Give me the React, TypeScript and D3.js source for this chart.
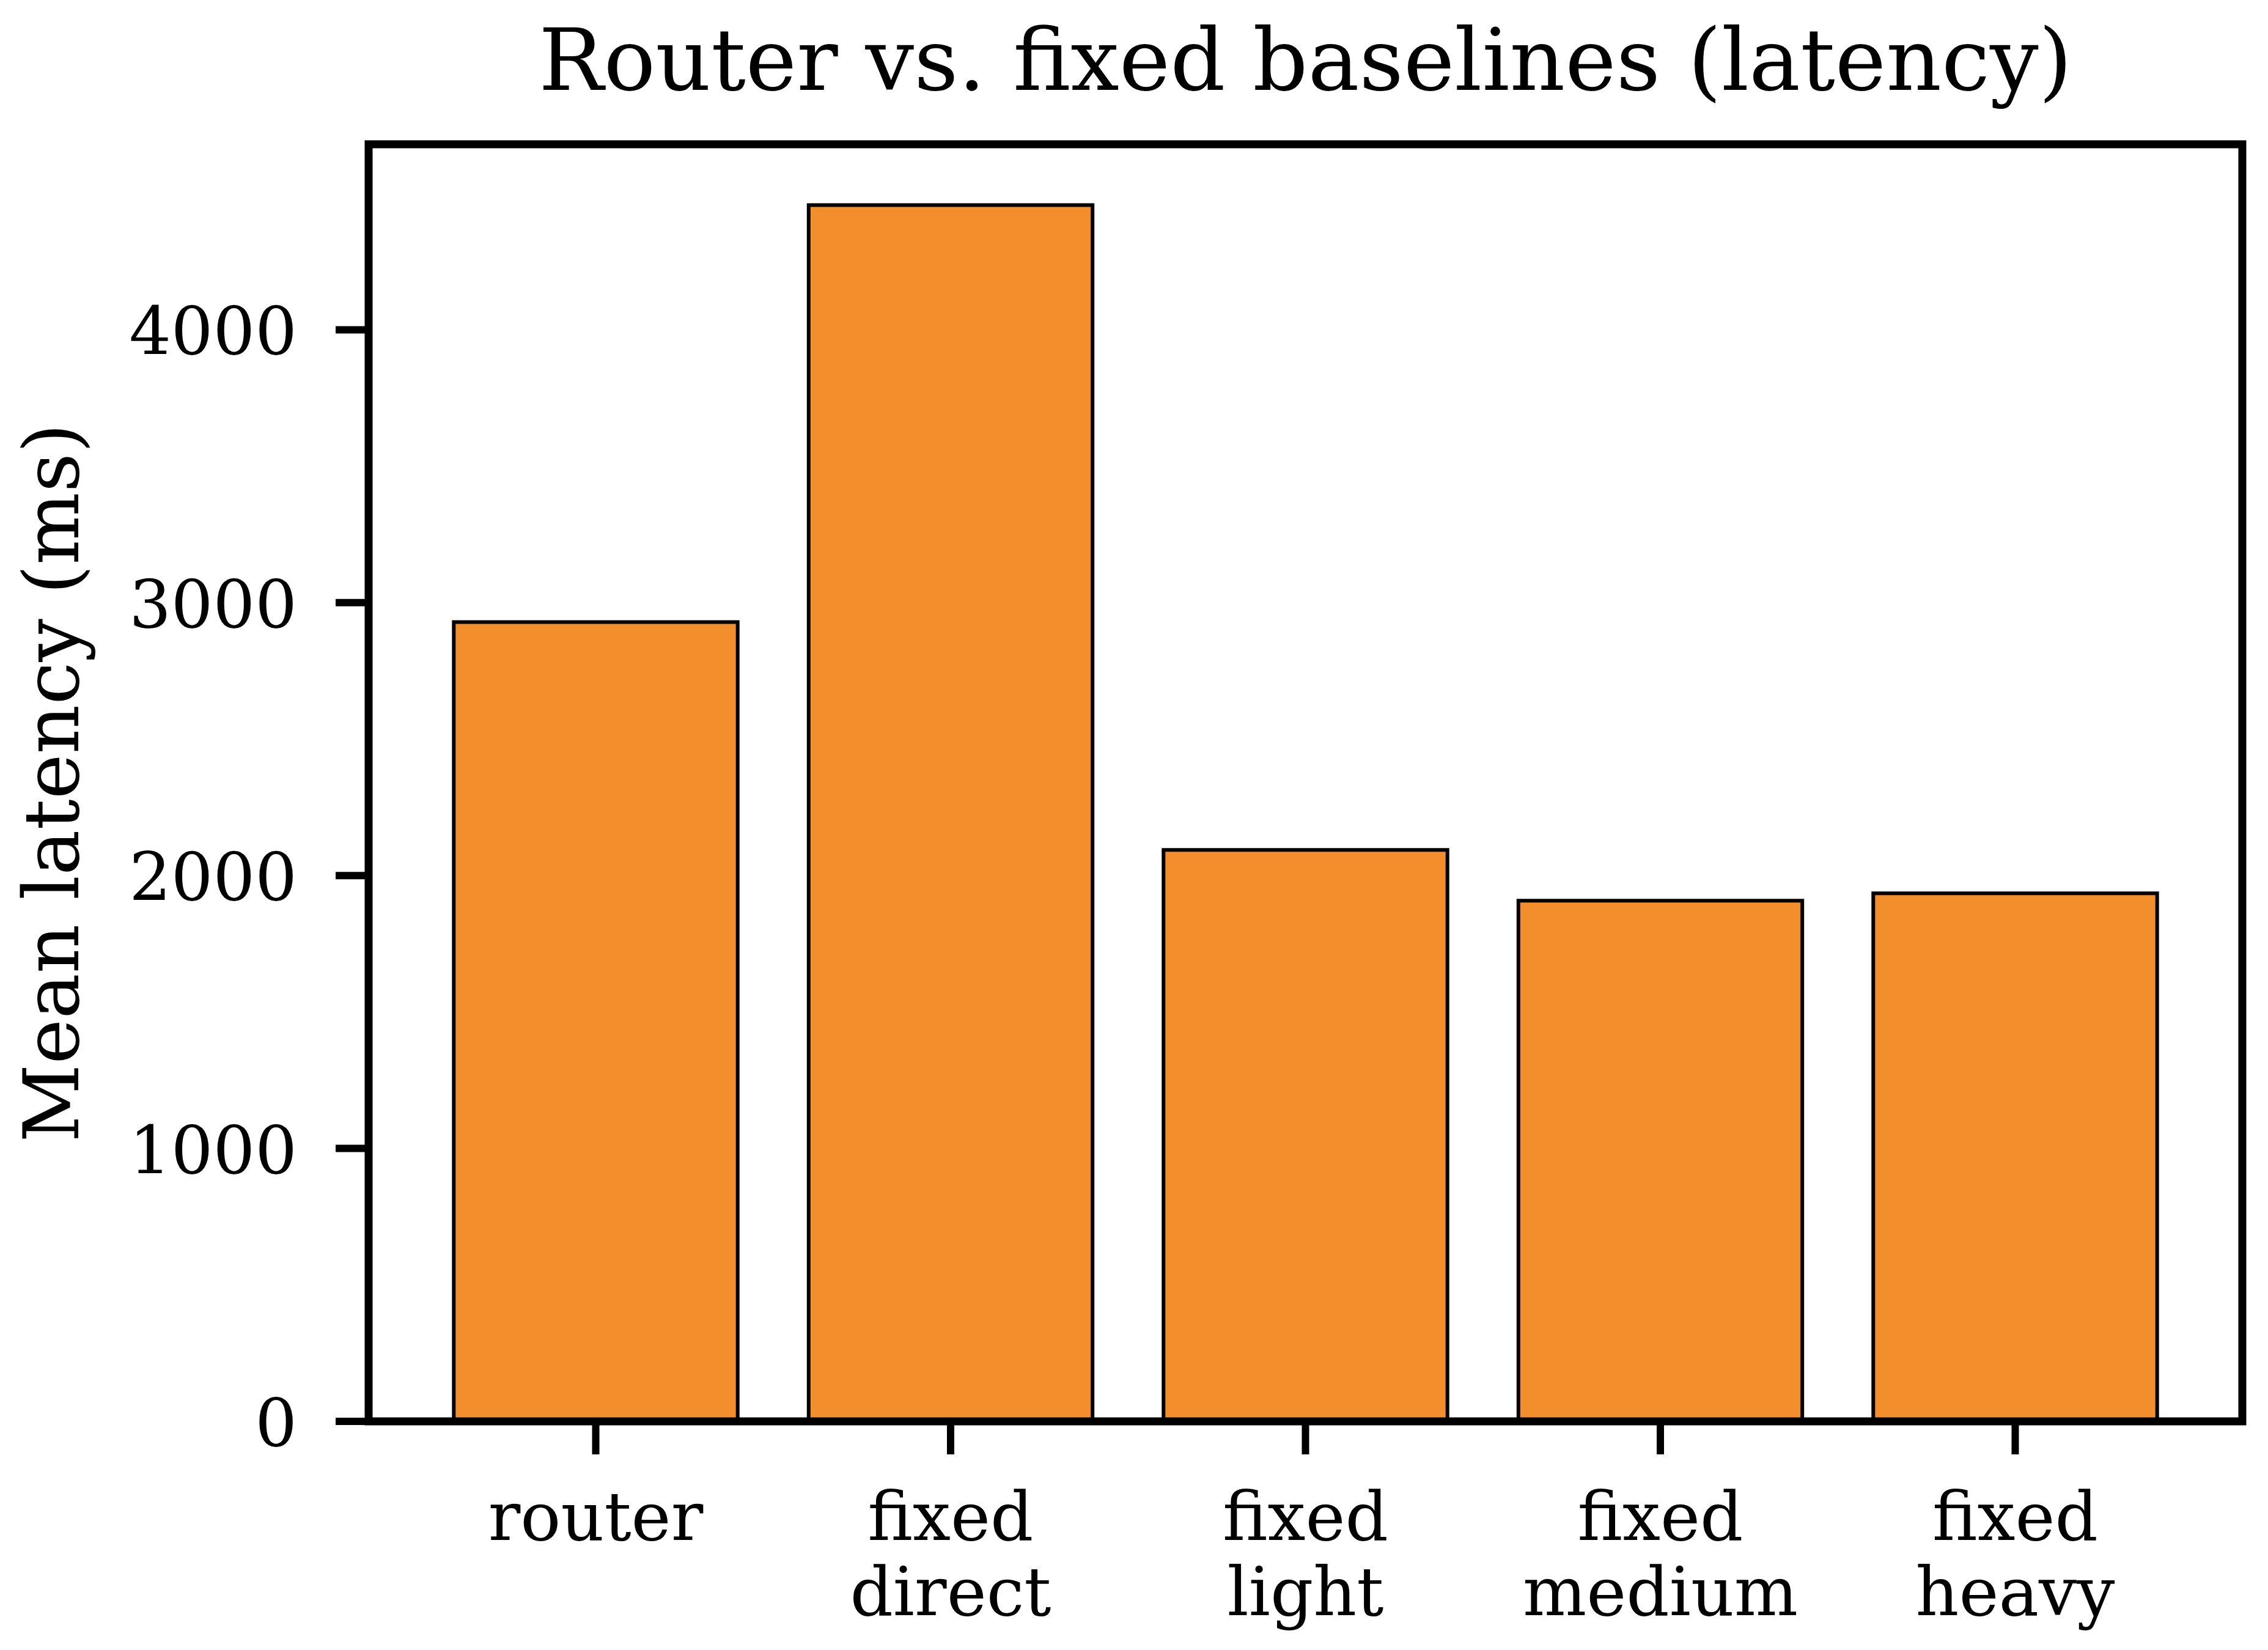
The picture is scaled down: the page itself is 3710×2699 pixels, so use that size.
import React from "react";
import * as d3 from "d3";

const categories: string[][] = [
  ["router"],
  ["fixed", "direct"],
  ["fixed", "light"],
  ["fixed", "medium"],
  ["fixed", "heavy"],
];
const categoryKeys = ["router", "fixed direct", "fixed light", "fixed medium", "fixed heavy"];
const latencyMs = [2929, 4457, 2094, 1908, 1935];
const yTicks = [0, 1000, 2000, 3000, 4000];

const W = 3710;
const H = 2699;
const left = 603;
const right = 3668;
const top = 236;
const bottom = 2325;
const FONT = "'DejaVu Serif', serif";

export default function App() {
  const x = d3
    .scaleBand<string>()
    .domain(categoryKeys)
    .range([left, right])
    .paddingInner(0.2)
    .paddingOuter(0.24);
  const ymax = (d3.max(latencyMs) as number) * 1.05;
  const y = d3.scaleLinear().domain([0, ymax]).range([bottom, top]);
  const tickLen = 54;

  return (
    <svg
      width={W}
      height={H}
      style={{ position: "absolute", left: 0, top: 0, background: "#fff" }}
    >
      <rect x={0} y={0} width={W} height={H} fill="#fff" />
      <text
        x={(left + right) / 2}
        y={147}
        textAnchor="middle"
        fontFamily={FONT}
        fontSize={141}
        fill="#000"
      >
        Router vs. fixed baselines (latency)
      </text>
      {latencyMs.map((v, i) => (
        <rect
          key={categoryKeys[i]}
          x={x(categoryKeys[i])}
          y={y(v)}
          width={x.bandwidth()}
          height={y(0) - y(v)}
          fill="#f28e2b"
          stroke="#000"
          strokeWidth={6}
        />
      ))}
      <rect
        x={left}
        y={top}
        width={right - left}
        height={bottom - top}
        fill="none"
        stroke="#000"
        strokeWidth={13}
      />
      {yTicks.map((t) => (
        <g key={t}>
          <line
            x1={left - tickLen}
            x2={left}
            y1={y(t)}
            y2={y(t)}
            stroke="#000"
            strokeWidth={12}
          />
          <text
            x={486}
            y={y(t) + 40}
            textAnchor="end"
            fontFamily={FONT}
            fontSize={108}
            fill="#000"
          >
            {t}
          </text>
        </g>
      ))}
      {categoryKeys.map((k, i) => {
        const cx = (x(k) as number) + x.bandwidth() / 2;
        return (
          <g key={k}>
            <line
              x1={cx}
              x2={cx}
              y1={bottom}
              y2={bottom + tickLen}
              stroke="#000"
              strokeWidth={12}
            />
            <text
              textAnchor="middle"
              fontFamily={FONT}
              fontSize={110}
              fill="#000"
            >
              {categories[i].map((line, j) => (
                <tspan key={j} x={cx} y={2519 + j * 123}>
                  {line}
                </tspan>
              ))}
            </text>
          </g>
        );
      })}
      <text
        transform={`translate(128, ${(top + bottom) / 2}) rotate(-90)`}
        textAnchor="middle"
        fontFamily={FONT}
        fontSize={125}
        fill="#000"
      >
        Mean latency (ms)
      </text>
    </svg>
  );
}
